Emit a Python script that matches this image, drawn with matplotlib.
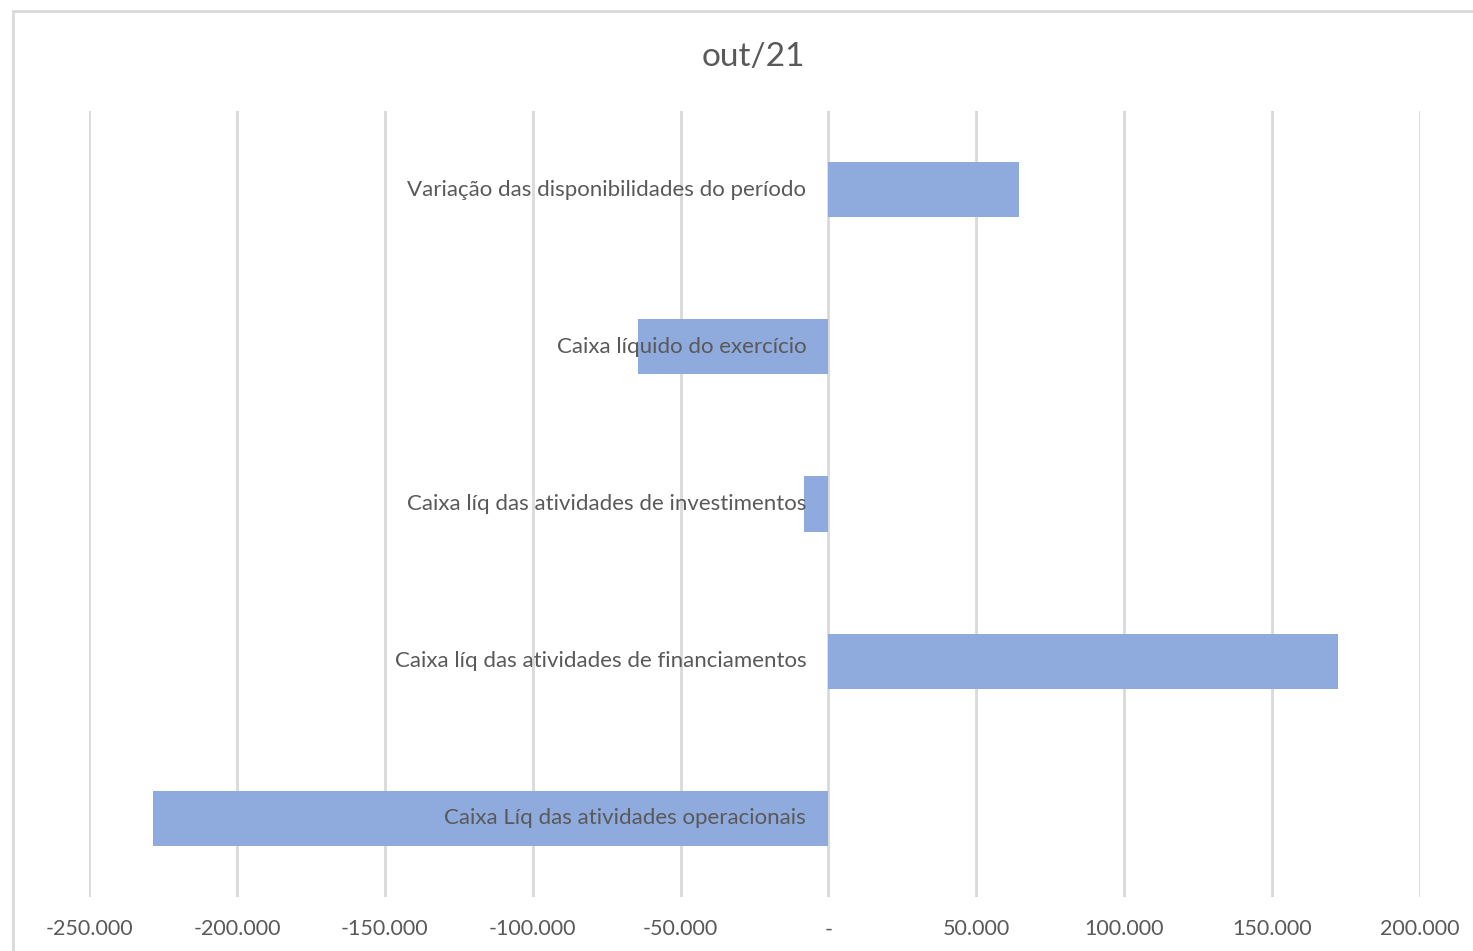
import matplotlib.pyplot as plt
from matplotlib.patches import Rectangle
from matplotlib.ticker import FuncFormatter

categories = ['Caixa Líq das atividades operacionais',
              'Caixa líq das atividades de financiamentos',
              'Caixa líq das atividades de investimentos',
              'Caixa líquido do exercício',
              'Variação das disponibilidades do período']
values = [-228400, 172300, -8300, -64400, 64400]
ticks = [-250000, -200000, -150000, -100000, -50000, 0, 50000, 100000, 150000, 200000]

plt.rcParams['font.family'] = ['Lato', 'DejaVu Sans']
text_color = '#595959'

fig = plt.figure(figsize=(14.73, 9.51), dpi=100)
fig.patches.append(Rectangle((13 / 1473, -0.1), 1.2, 1 - 11 / 951 + 0.1, transform=fig.transFigure,
                             fill=False, edgecolor='#D9D9D9', linewidth=2))
ax = fig.add_axes([89 / 1473, 1 - 897 / 951, (1420 - 89) / 1473, (897 - 111) / 951])

y = range(len(categories))
ax.barh(y, values, height=0.35, color='#8FAADC', zorder=2)

# category labels sit next to the zero line
for i, name in enumerate(categories):
    ax.annotate(name, xy=(0, i), xytext=(-16, 0), textcoords='offset points',
                ha='right', va='center', fontsize=16, color=text_color, zorder=3)

ax.set_xlim(-250000, 200000)
ax.set_ylim(-0.5, 4.5)
ax.set_xticks(ticks)
ax.xaxis.set_major_formatter(FuncFormatter(lambda v, p: '-' if v == 0 else f'{int(v):,}'.replace(',', '.')))
ax.set_yticks([])
ax.tick_params(axis='x', length=0, pad=16, labelsize=15.5, labelcolor=text_color)
ax.grid(axis='x', color='#D9D9D9', linewidth=2, zorder=0)
for s in ax.spines.values():
    s.set_visible(False)

fig.text(753 / 1473, 1 - 57 / 951, 'out/21', ha='center', va='center', fontsize=24, color=text_color)

fig.savefig('out.png', dpi=100)
